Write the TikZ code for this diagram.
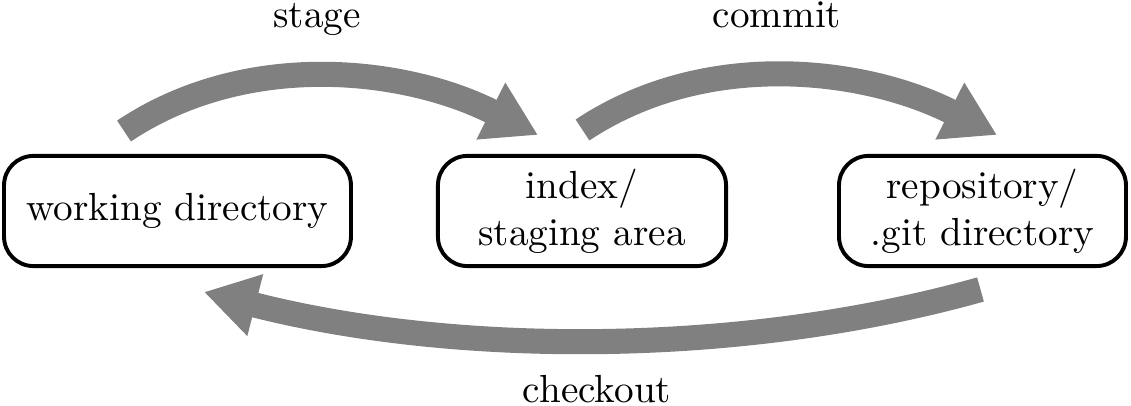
\documentclass[tikz,border=0pt]{standalone}
\usetikzlibrary{arrows.meta}
\begin{document}
\begin{tikzpicture}[x=0.2551pt,y=-0.2551pt,
  box/.style={draw, line width=1pt, rounded corners=7.5pt, minimum width=#1, minimum height=28.1pt, align=center, inner sep=0pt},
  flow/.style={draw=gray, line width=6.4pt, -{Triangle[length=13.5pt,width=15.3pt]}},
  lbl/.style={anchor=base}]
\useasboundingbox (0,0) rectangle (1131,406);
\node[box=88.5pt] (wd) at (177.5,211) {working directory};
\node[box=73.5pt] (idx) at (582,211) {index/\\staging area};
\node[box=73.2pt] (repo) at (982.5,211) {repository/\\.git directory};
\coordinate (s0) at (124,131);
\coordinate (s1) at (538,135);
\coordinate (c0) at (582.5,130);
\coordinate (c1) at (997,135);
\coordinate (k0) at (980.5,289.5);
\coordinate (k1) at (204,292);
\draw[flow] (s0) .. controls (247,49) and (406,68) .. (s1);
\draw[flow] (c0) .. controls (706,48) and (865,68) .. (c1);
\draw[flow] (k0) .. controls (736,358) and (450,355) .. (k1);
\node[lbl] (st) at (317,28) {stage};
\node[lbl] (cm) at (777,28) {commit};
\node[lbl] (co) at (597,403) {checkout};
\end{tikzpicture}
\end{document}
